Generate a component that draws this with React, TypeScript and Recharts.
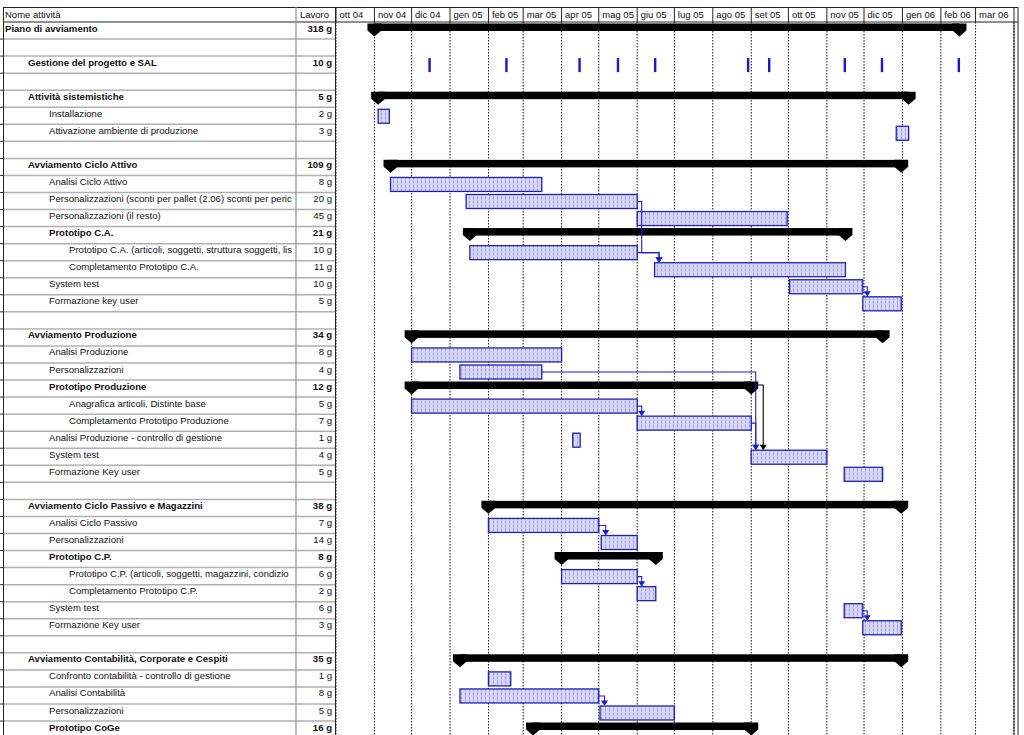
import React from "react";
import { Bar, BarChart, CartesianGrid, XAxis, YAxis } from "recharts";

// righe del diagramma (nome, livello, lavoro, tipo, inizio, fine)
const ROW_NAMES = [
  "Piano di avviamento",
  "",
  "Gestione del progetto e SAL",
  "",
  "Attività sistemistiche",
  "Installazione",
  "Attivazione ambiente di produzione",
  "",
  "Avviamento Ciclo Attivo",
  "Analisi Ciclo Attivo",
  "Personalizzazioni (sconti per pallet (2.06) sconti per peric",
  "Personalizzazioni (il resto)",
  "Prototipo C.A.",
  "Prototipo C.A. (articoli, soggetti, struttura soggetti, lis",
  "Completamento Prototipo C.A.",
  "System test",
  "Formazione key user",
  "",
  "Avviamento Produzione",
  "Analisi Produzione",
  "Personalizzazioni",
  "Prototipo Produzione",
  "Anagrafica articoli, Distinte base",
  "Completamento Prototipo Produzione",
  "Analisi Produzione - controllo di gestione",
  "System test",
  "Formazione Key user",
  "",
  "Avviamento Ciclo Passivo e Magazzini",
  "Analisi Ciclo Passivo",
  "Personalizzazioni",
  "Prototipo C.P.",
  "Prototipo C.P. (articoli, soggetti, magazzini, condizio",
  "Completamento Prototipo C.P.",
  "System test",
  "Formazione Key user",
  "",
  "Avviamento Contabilità, Corporate e Cespiti",
  "Confronto contabilità - controllo di gestione",
  "Analisi Contabilità",
  "Personalizzazioni",
  "Prototipo CoGe",
];

const ROW_LEVELS = [
  0, 0, 1, 0, 1, 2, 2, 0, 1, 2, 2, 2, 2, 3, 3, 2, 2, 0, 1, 2, 2, 2, 3, 3, 2,
  2, 2, 0, 1, 2, 2, 2, 3, 3, 2, 2, 0, 1, 2, 2, 2, 2,
];

const ROW_WORK = [
  "318 g", "", "10 g", "", "5 g", "2 g", "3 g", "", "109 g", "8 g", "20 g",
  "45 g", "21 g", "10 g", "11 g", "10 g", "5 g", "", "34 g", "8 g", "4 g",
  "12 g", "5 g", "7 g", "1 g", "4 g", "5 g", "", "38 g", "7 g", "14 g", "8 g",
  "6 g", "2 g", "6 g", "3 g", "", "35 g", "1 g", "8 g", "5 g", "16 g",
];

// S = riepilogo, T = attività, R = ricorrente, "" = riga vuota
const ROW_KINDS = [
  "S", "", "R", "", "S", "T", "T", "", "S", "T", "T", "T", "S", "T", "T", "T",
  "T", "", "S", "T", "T", "S", "T", "T", "T", "T", "T", "", "S", "T", "T", "S",
  "T", "T", "T", "T", "", "S", "T", "T", "T", "S",
];

const ROW_STARTS = [
  "2004-11-01", "", "", "", "2004-11-04", "2004-11-04", "2005-12-27", "",
  "2004-11-14", "2004-11-14", "2005-01-14", "2005-06-01", "2005-01-17",
  "2005-01-17", "2005-06-15", "2005-10-02", "2005-11-30", "",
  "2004-12-01", "2004-12-01", "2005-01-09", "2004-12-01", "2004-12-01",
  "2005-06-01", "2005-04-10", "2005-09-01", "2005-11-15", "",
  "2005-02-01", "2005-02-01", "2005-05-03", "2005-04-01", "2005-04-01",
  "2005-06-01", "2005-11-15", "2005-11-30", "",
  "2005-01-09", "2005-02-01", "2005-01-09", "2005-05-02", "2005-03-09",
];

const ROW_ENDS = [
  "2006-02-16", "", "", "", "2006-01-06", "2004-11-13", "2006-01-06", "",
  "2005-12-31", "2005-03-16", "2005-06-01", "2005-09-30", "2005-11-16",
  "2005-06-01", "2005-11-16", "2005-11-30", "2005-12-31", "",
  "2005-12-16", "2005-04-01", "2005-03-16", "2005-09-01", "2005-06-01",
  "2005-09-01", "2005-04-16", "2005-11-01", "2005-12-16", "",
  "2005-12-31", "2005-05-01", "2005-06-01", "2005-06-16", "2005-06-01",
  "2005-06-16", "2005-11-30", "2005-12-31", "",
  "2005-12-31", "2005-02-19", "2005-05-01", "2005-07-01", "2005-09-01",
];

// incontri SAL (attività ricorrente)
const SAL_DATES = [
  "2004-12-15", "2005-02-15", "2005-04-15", "2005-05-16", "2005-06-15",
  "2005-08-29", "2005-09-15", "2005-11-15", "2005-12-15", "2006-02-15",
];

// collegamenti fine-inizio: [predecessore, successore]
const LINKS = [
  [10, 14], [13, 14], [15, 16], [20, 25], [21, 25], [22, 23], [23, 25],
  [29, 30], [32, 33], [34, 35], [39, 40],
];
const ELBOW_LINKS = ["10-14"];

const MONTH_STARTS = [
  "2004-10-01", "2004-11-01", "2004-12-01", "2005-01-01", "2005-02-01",
  "2005-03-01", "2005-04-01", "2005-05-01", "2005-06-01", "2005-07-01",
  "2005-08-01", "2005-09-01", "2005-10-01", "2005-11-01", "2005-12-01",
  "2006-01-01", "2006-02-01", "2006-03-01",
];
const MONTH_LABELS = [
  "ott 04", "nov 04", "dic 04", "gen 05", "feb 05", "mar 05", "apr 05",
  "mag 05", "giu 05", "lug 05", "ago 05", "set 05", "ott 05", "nov 05",
  "dic 05", "gen 06", "feb 06", "mar 06",
];

const ORIGIN = Date.UTC(2004, 9, 1);
const toDay = (s: string) => {
  const [y, m, d] = s.split("-").map(Number);
  return (Date.UTC(y, m - 1, d) - ORIGIN) / 86400000;
};
const LAST_DAY = toDay("2006-04-01");
const MONTH_DAYS = MONTH_STARTS.map(toDay);

const ROW_H = 17.05;
const HEADER_H = 22;
const BAR_H = 14;
const INDENT = [5, 28, 49, 69];
const FONT = "'Liberation Sans', Arial, sans-serif";
const BLUE = "#2020b8";
const LINK_BLUE = "#1c1cd0";

const rows = ROW_NAMES.map((name, i) => {
  const kind = ROW_KINDS[i];
  let range: number[] | null = null;
  let ticks: number[] = [];
  if (kind === "R") {
    ticks = SAL_DATES.map(toDay);
    range = [Math.min(...ticks), Math.max(...ticks) + 1];
  } else if (kind) {
    range = [toDay(ROW_STARTS[i]), toDay(ROW_ENDS[i])];
  }
  return { id: i, name, kind, range, ticks };
});

function GanttShape(props: any) {
  const { x, y, width, height, payload } = props;
  if (!payload || !payload.range || !payload.kind) return <g />;
  const [s, e] = payload.range;
  const left = Math.min(x, x + width);
  const w = Math.abs(width);
  const ppd = w / (e - s);
  const X = (d: number) => left + (d - s) * ppd;
  const bandTop = y - (ROW_H - height) / 2;
  const i = payload.id;

  let body: React.ReactNode = null;
  if (payload.kind === "R") {
    body = payload.ticks.map((t: number) => (
      <rect
        key={t}
        x={X(t + 0.5) - 1.2}
        y={y}
        width={2.4}
        height={height}
        fill="#1818c8"
      />
    ));
  } else if (payload.kind === "S") {
    const top = bandTop + 1;
    const cap = (cx: number) =>
      `M${cx - 7},${top} L${cx + 7},${top} L${cx + 7},${top + 7} L${cx},${top + 13} L${cx - 7},${top + 7} Z`;
    body = (
      <g>
        <rect x={left} y={top} width={w} height={7.5} fill="#000" />
        <path d={cap(left)} fill="#000" />
        <path d={cap(left + w)} fill="#000" />
      </g>
    );
  } else {
    body = (
      <rect
        x={left}
        y={y}
        width={w}
        height={height}
        fill="url(#ganttHatch)"
        stroke={BLUE}
        strokeWidth={1.3}
      />
    );
  }

  // collegamenti che entrano in questa attività
  const links = LINKS.filter((l) => l[1] === i).map(([p]) => {
    const pred = rows[p];
    const predTop = bandTop - (i - p) * ROW_H;
    const predEnd = X(pred.range![1]);
    const isSum = pred.kind === "S";
    const x1 = isSum ? predEnd + 7 : predEnd;
    const y1 = isSum ? predTop + 4.5 : predTop + ROW_H / 2;
    const xv = isSum ? x1 + 5 : Math.max(left, predEnd) + 4.5;
    const color = isSum ? "#000" : LINK_BLUE;
    const d = ELBOW_LINKS.includes(`${p}-${i}`)
      ? `M${x1},${y1} H${x1 + 4.5} V${bandTop - ROW_H / 2} H${xv} V${y - 5}`
      : `M${x1},${y1} H${xv} V${y - 5}`;
    return (
      <g key={`l${p}`}>
        <path d={d} fill="none" stroke={color} strokeWidth={1.1} />
        <path
          d={`M${xv - 3.5},${y - 5.5} L${xv + 3.5},${y - 5.5} L${xv},${y} Z`}
          fill={color}
        />
      </g>
    );
  });

  return (
    <g>
      {body}
      {links}
    </g>
  );
}

function TableRow(props: any) {
  const { y, payload } = props;
  const row = rows[payload.value];
  if (!row) return <g />;
  const bold = row.kind === "S" || row.kind === "R";
  const sepY = y + ROW_H / 2;
  const level = ROW_LEVELS[row.id];
  return (
    <g>
      <line x1={4} x2={335} y1={sepY} y2={sepY} stroke="#b0b0b0" strokeWidth={1.5} />
      <line x1={0} x2={4} y1={sepY} y2={sepY} stroke="#333" strokeWidth={1} />
      {row.name && (
        <text
          x={INDENT[level]}
          y={y + 1}
          fontSize={9.6}
          fontFamily={FONT}
          fontWeight={bold ? "bold" : "normal"}
          fill="#111"
        >
          {row.name}
        </text>
      )}
      {ROW_WORK[row.id] && (
        <text
          x={332}
          y={y + 1}
          textAnchor="end"
          fontSize={9.6}
          fontFamily={FONT}
          fontWeight={bold ? "bold" : "normal"}
          fill="#111"
        >
          {ROW_WORK[row.id]}
        </text>
      )}
    </g>
  );
}

function MonthTick(props: any) {
  const { x, payload } = props;
  const idx = MONTH_DAYS.indexOf(payload.value);
  return (
    <g>
      <line x1={x} x2={x} y1={7} y2={22} stroke="#222" strokeWidth={1} />
      <text x={x + 3.5} y={18} fontSize={9.5} fontFamily={FONT} fill="#111">
        {MONTH_LABELS[idx]}
      </text>
    </g>
  );
}

export default function App() {
  const chartH = HEADER_H + rows.length * ROW_H;
  return (
    <div
      style={{
        position: "fixed",
        left: 0,
        top: 0,
        width: 1024,
        height: 735,
        overflow: "hidden",
        background: "#fff",
      }}
    >
      <BarChart
        width={1024}
        height={chartH}
        data={rows}
        layout="vertical"
        margin={{ top: 0, right: 10, bottom: 0, left: 0 }}
        barCategoryGap={0}
        style={{ fontFamily: FONT }}
      >
        <defs>
          <pattern
            id="ganttHatch"
            width="4"
            height="4"
            patternUnits="userSpaceOnUse"
          >
            <rect width="4" height="4" fill="#d8d8f6" />
            <rect x="1" y="0.5" width="1" height="3" fill="#9c9ce2" />
          </pattern>
        </defs>
        <CartesianGrid
          horizontal={false}
          stroke="#111"
          strokeDasharray="1.5 1.5"
        />
        <XAxis
          type="number"
          orientation="top"
          domain={[0, LAST_DAY]}
          ticks={MONTH_DAYS}
          interval={0}
          height={HEADER_H}
          axisLine={false}
          tickLine={false}
          allowDataOverflow
          tick={(p: any) => <MonthTick {...p} />}
        />
        <YAxis
          type="category"
          dataKey="id"
          width={336}
          interval={0}
          axisLine={false}
          tickLine={false}
          tick={(p: any) => <TableRow {...p} />}
        />
        <Bar
          dataKey="range"
          barSize={BAR_H}
          shape={(p: any) => <GanttShape {...p} />}
          isAnimationActive={false}
        />
      </BarChart>

      <svg
        width={1024}
        height={735}
        style={{ position: "absolute", left: 0, top: 0, pointerEvents: "none" }}
      >
        <line x1={3} x2={1018} y1={7.5} y2={7.5} stroke="#222" />
        <line x1={3} x2={1018} y1={22} y2={22} stroke="#222" />
        <line x1={3.5} x2={3.5} y1={7} y2={735} stroke="#222" />
        <line x1={296} x2={296} y1={7} y2={735} stroke="#999" strokeWidth={1.3} />
        <line x1={335.5} x2={335.5} y1={7} y2={735} stroke="#222" />
        <line x1={1014} x2={1014} y1={7} y2={735} stroke="#222" />
        <line x1={1018} x2={1018} y1={7} y2={735} stroke="#222" />
        <text x={5} y={18} fontSize={9.5} fontFamily={FONT} fill="#111">
          Nome attività
        </text>
        <text x={300} y={18} fontSize={9.5} fontFamily={FONT} fill="#111">
          Lavoro
        </text>
      </svg>
    </div>
  );
}
